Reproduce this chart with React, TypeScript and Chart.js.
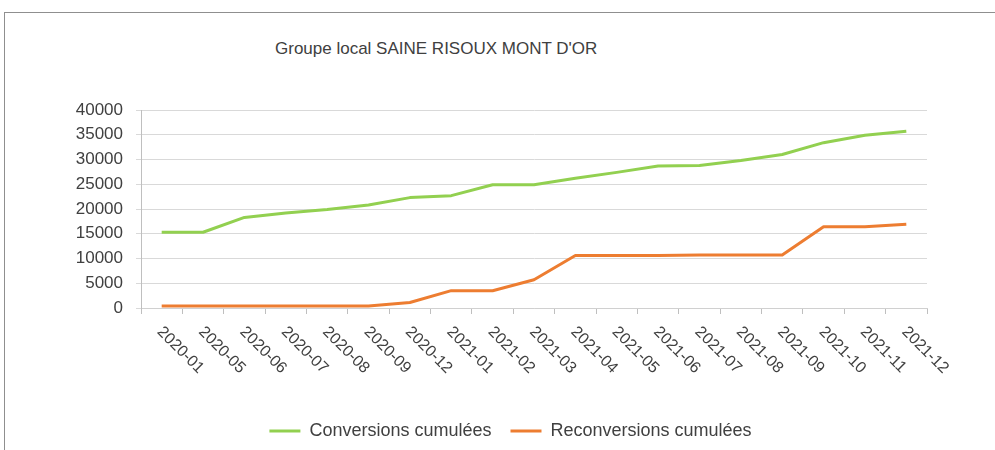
import React, { useEffect, useRef } from "react";
import { Chart, registerables } from "chart.js";

Chart.register(...registerables);

const titleText = "Groupe local SAINE RISOUX MONT D'OR";
const categories = [
  "2020-01", "2020-05", "2020-06", "2020-07", "2020-08", "2020-09", "2020-12",
  "2021-01", "2021-02", "2021-03", "2021-04", "2021-05", "2021-06", "2021-07",
  "2021-08", "2021-09", "2021-10", "2021-11", "2021-12",
];
const seriesNames = ["Conversions cumulées", "Reconversions cumulées"];
const conversions = [
  15300, 15300, 18300, 19200, 19900, 20800, 22300, 22700, 24900, 24900,
  26200, 27400, 28700, 28800, 29800, 31000, 33400, 34900, 35700,
];
const reconversions = [
  400, 400, 400, 400, 400, 400, 1100, 3500, 3500, 5700,
  10600, 10600, 10600, 10700, 10700, 10700, 16400, 16400, 16900,
];
const yMin = 0;
const yMax = 40000;
const yStep = 5000;

const GREEN = "#92D050";
const ORANGE = "#ED7D31";
const TEXT = "#404040";
const GRID = "#d9d9d9";

const rotatedXLabels = {
  id: "rotatedXLabels",
  afterLayout(chart: any) {
    if (chart.legend) {
      chart.legend.left += 17;
      chart.legend.right += 17;
    }
  },
  afterDraw(chart: any) {
    const xs = chart.scales.x;
    const ctx = chart.ctx;
    ctx.save();
    ctx.font = '16px "Liberation Sans"';
    ctx.fillStyle = TEXT;
    ctx.textAlign = "left";
    ctx.textBaseline = "middle";
    categories.forEach((lab, i) => {
      const x = xs.getPixelForValue(i);
      ctx.save();
      ctx.translate(x - 2, xs.top + 21.5);
      ctx.rotate(Math.PI / 4);
      ctx.fillText(lab, 0, 0);
      ctx.restore();
    });
    ctx.restore();
  },
};

export default function App() {
  const ref = useRef<HTMLCanvasElement | null>(null);

  useEffect(() => {
    if (!ref.current) return;
    const chart = new Chart(ref.current, {
      type: "line",
      data: {
        labels: categories,
        datasets: [
          {
            label: seriesNames[0],
            data: conversions,
            borderColor: GREEN,
            backgroundColor: GREEN,
            borderWidth: 3,
            pointRadius: 0,
            tension: 0,
            borderJoinStyle: "round",
          },
          {
            label: seriesNames[1],
            data: reconversions,
            borderColor: ORANGE,
            backgroundColor: ORANGE,
            borderWidth: 3,
            pointRadius: 0,
            tension: 0,
            borderJoinStyle: "round",
          },
        ],
      },
      options: {
        responsive: false,
        animation: false,
        events: [],
        layout: { padding: { left: 60, right: 68, top: 110, bottom: 0 } },
        font: { family: "Liberation Sans" },
        plugins: {
          title: { display: false },
          tooltip: { enabled: false },
          legend: {
            position: "bottom",
            labels: {
              boxWidth: 31,
              boxHeight: 3,
              padding: 19,
              color: TEXT,
              font: { family: "Liberation Sans", size: 18 },
              generateLabels(chart: any) {
                return chart.data.datasets.map((ds: any, i: number) => ({
                  text: ds.label,
                  fillStyle: ds.borderColor,
                  strokeStyle: ds.borderColor,
                  lineWidth: 0,
                  fontColor: TEXT,
                  hidden: false,
                  datasetIndex: i,
                }));
              },
            },
          },
        },
        scales: {
          x: {
            type: "category",
            offset: true,
            grid: {
              display: true,
              drawOnChartArea: false,
              drawTicks: true,
              tickLength: 6,
              offset: true,
              color: "#bfbfbf",
            },
            border: { display: true, color: "#d0d0d0" },
            ticks: { display: false },
            afterFit(scale: any) {
              scale.height = 95;
            },
          },
          y: {
            min: yMin,
            max: yMax,
            grid: {
              color: GRID,
              tickLength: 5,
              drawTicks: true,
            },
            border: { display: true, color: "#bfbfbf" },
            ticks: {
              stepSize: yStep,
              padding: 13,
              color: TEXT,
              font: { family: "Liberation Sans", size: 17 },
              callback: (v: any) => String(v),
            },
            afterFit(scale: any) {
              scale.width = 81;
            },
          },
        },
      },
      plugins: [rotatedXLabels],
    } as any);
    return () => chart.destroy();
  }, []);

  return (
    <div
      style={{
        position: "fixed",
        left: 0,
        top: 0,
        width: 995,
        height: 450,
        background: "#ffffff",
        overflow: "hidden",
      }}
    >
      <div
        style={{
          position: "absolute",
          left: 4,
          top: 12,
          width: 995,
          height: 450,
          borderTop: "1px solid #8f8f8f",
          borderLeft: "1px solid #8f8f8f",
        }}
      />
      <div
        style={{
          position: "absolute",
          left: 275,
          top: 40,
          fontFamily: '"Liberation Sans"',
          fontSize: 17,
          lineHeight: "17px",
          color: TEXT,
          whiteSpace: "nowrap",
        }}
      >
        {titleText}
      </div>
      <canvas
        ref={ref}
        width={995}
        height={450}
        style={{ position: "absolute", left: 0, top: 0, width: 995, height: 450 }}
      />
    </div>
  );
}
